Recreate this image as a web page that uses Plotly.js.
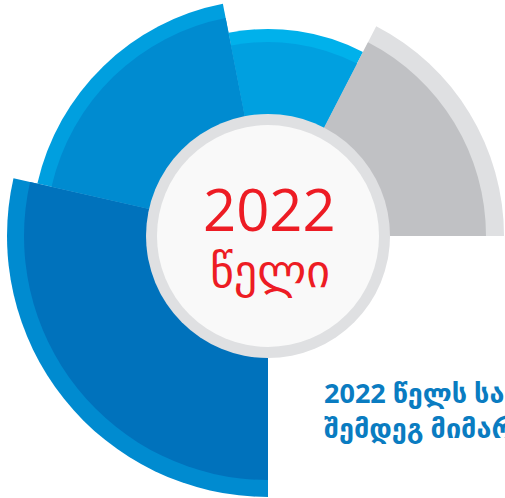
<!DOCTYPE html>
<html>
<head>
<meta charset="utf-8">
<script src="https://cdn.plot.ly/plotly-3.0.1.min.js"></script>
<style>
html, body { margin: 0; padding: 0; width: 505px; height: 498px; overflow: hidden; background: #ffffff; }
#chart { position: absolute; left: -2px; top: -34px; width: 540px; height: 540px; }
</style>
</head>
<body>
<div id="chart"></div>
<script>
// ---- data ----
const categories = ['სეგმენტი 1', 'სეგმენტი 2', 'სეგმენტი 3', 'სეგმენტი 4'];
const sectorSpan = [62.7, 38.3, 66.2, 102.8];      // angular share (degrees)
const outerValue = [236, 207, 236.5, 261];          // outer (light) band
const innerValue = [218, 194, 222, 244];            // inner (main) bar
const innerColors = ['#C0C1C4', '#00A0E0', '#008BD0', '#0072BC'];
const outerColors = ['#DFE0E2', '#00B1EB', '#009FDF', '#008BD0'];
const centerYear = '2022';
const centerWord = 'წელი';
const captionLines = ['2022 წელს საქართველოში', 'შემდეგ მიმართულებებით'];

// ---- build ----
const thetaCenters = [];
let acc = 0;
for (const s of sectorSpan) { thetaCenters.push(acc + s / 2); acc += s; }

const traces = [
  {
    type: 'barpolar', name: 'outer', r: outerValue, theta: thetaCenters, width: sectorSpan,
    text: categories, marker: { color: outerColors, line: { width: 0 } }, hoverinfo: 'skip'
  },
  {
    type: 'barpolar', name: 'inner', r: innerValue, theta: thetaCenters, width: sectorSpan,
    text: categories, marker: { color: innerColors, line: { width: 0 } }, hoverinfo: 'skip'
  }
];

const W = 540, H = 540;
const cx = 270, cy = 270;
function px2x(p) { return p / W; }
function py2y(p) { return 1 - p / H; }
const ringR = 122, discR = 111;

const layout = {
  width: W, height: H,
  margin: { l: 0, r: 0, t: 0, b: 0 },
  paper_bgcolor: 'rgba(0,0,0,0)',
  showlegend: false,
  polar: {
    domain: { x: [0, 1], y: [0, 1] },
    bgcolor: 'rgba(0,0,0,0)',
    barmode: 'overlay',
    radialaxis: { visible: false, range: [0, 270] },
    angularaxis: { visible: false, rotation: 0, direction: 'counterclockwise', showgrid: false, showline: false, ticks: '', showticklabels: false }
  },
  shapes: [
    { type: 'circle', xref: 'paper', yref: 'paper', layer: 'above',
      x0: px2x(cx - ringR), x1: px2x(cx + ringR), y0: py2y(cy + ringR), y1: py2y(cy - ringR),
      fillcolor: '#DFE0E2', line: { width: 0 } },
    { type: 'circle', xref: 'paper', yref: 'paper', layer: 'above',
      x0: px2x(cx - discR), x1: px2x(cx + discR), y0: py2y(cy + discR), y1: py2y(cy - discR),
      fillcolor: '#F9F9F9', line: { width: 0 } }
  ],
  annotations: [
    { xref: 'paper', yref: 'paper', x: px2x(cx + 1.5), y: py2y(cy - 28), xanchor: 'center', yanchor: 'middle',
      text: centerYear, showarrow: false, font: { family: 'Open Sans, DejaVu Sans, sans-serif', size: 58, color: '#ED1C24' } },
    { xref: 'paper', yref: 'paper', x: px2x(cx + 1.5), y: py2y(cy + 35), xanchor: 'center', yanchor: 'middle',
      text: centerWord, showarrow: false, font: { family: 'DejaVu Sans, sans-serif', size: 46, color: '#ED1C24' } },
    { xref: 'paper', yref: 'paper', x: px2x(322 + 2), y: py2y(380 + 34 - 8), xanchor: 'left', yanchor: 'top', align: 'left',
      text: '<b>' + captionLines.join('<br>') + '</b>', showarrow: false,
      font: { family: 'Open Sans, DejaVu Sans, sans-serif', size: 27, color: '#0A7CC1' } }
  ]
};

Plotly.newPlot('chart', traces, layout, { displayModeBar: false, staticPlot: true });
</script>
</body>
</html>
